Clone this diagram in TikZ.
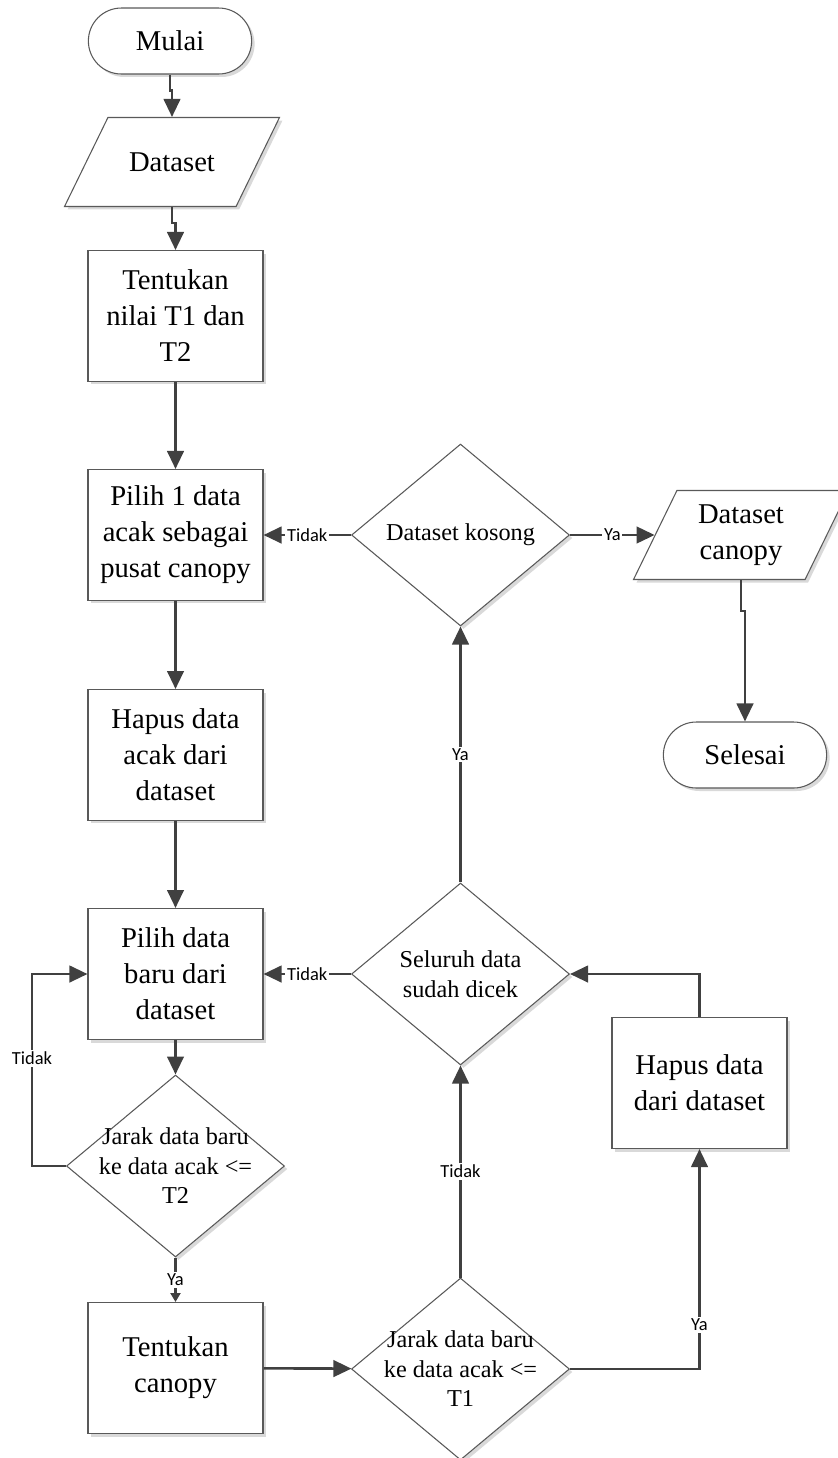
\documentclass[tikz,border=0pt]{standalone}
\usepackage{fontspec}
\setmainfont{Liberation Serif}
\newfontfamily\lblfont{Carlito}
\usetikzlibrary{shapes.geometric,shapes.misc,arrows.meta,shadows}

\tikzset{
  base/.style={draw=black!65, line width=0.6pt, fill=white,
    drop shadow={shadow xshift=0.06cm, shadow yshift=-0.06cm, fill=black!15, opacity=1}},
  proc/.style={base, rectangle, minimum width=3.5cm, minimum height=2.62cm, align=center,
    font=\fontsize{16.3}{20.5}\selectfont},
  term/.style={base, rounded rectangle, minimum width=3.5cm, minimum height=1.32cm,
    font=\fontsize{16.3}{20.5}\selectfont},
  io/.style={base, trapezium, trapezium left angle=64, trapezium right angle=116,
    trapezium stretches body, inner xsep=0pt, inner ysep=0.89cm, minimum width=4.3cm},
  iotext/.style={align=center, font=\fontsize{16.3}{20.5}\selectfont},
  decision/.style={base, diamond, minimum width=4.36cm, minimum height=3.64cm, inner sep=0pt},
  dtext/.style={align=center, font=\fontsize{13.8}{16.8}\selectfont},
  arr/.style={draw=black!75, line width=1.5pt, -{Triangle[length=0.36cm,width=0.33cm]}},
  arrsmall/.style={draw=black!75, line width=1.5pt, -{Triangle[length=0.18cm,width=0.2cm]}},
  lbl/.style={fill=white, inner sep=1pt, text=black, font=\lblfont\fontsize{10.5}{12}\selectfont},
}

\begin{document}
\begin{tikzpicture}[x=0.02cm, y=-0.02cm]
\useasboundingbox (0,0) rectangle (838,1458);

\node[term] (mulai) at (170,41) {Mulai};
\node[io] (dataset) at (172,162) {};
\node[iotext] (datasettxt) at (dataset) {Dataset};
\node[proc] (nilai) at (175.5,316) {Tentukan\\nilai T1 dan\\T2};
\node[proc] (pusat) at (175.5,535) {Pilih 1 data\\acak sebagai\\pusat canopy};
\node[proc] (hapusacak) at (175.5,755) {Hapus data\\acak dari\\dataset};
\node[proc] (baru) at (175.5,974) {Pilih data\\baru dari\\dataset};
\node[decision] (cekT2) at (175.5,1166) {};
\node[dtext] (cekT2txt) at (cekT2) {Jarak data baru\\ke data acak <=\\T2};
\node[proc] (canopy) at (175.5,1368) {Tentukan\\canopy};
\node[decision] (cekT1) at (460.5,1369) {};
\node[dtext] (cekT1txt) at (cekT1) {Jarak data baru\\ke data acak <=\\T1};
\node[proc] (hapus) at (699.5,1083) {Hapus data\\dari dataset};
\node[decision] (seluruh) at (460.5,974) {};
\node[dtext] (seluruhtxt) at (seluruh) {Seluruh data\\sudah dicek};
\node[decision] (kosong) at (460.5,535) {};
\node[dtext] (kosongtxt) at (kosong) {Dataset kosong};
\node[io] (hasil) at (741,535) {};
\node[iotext] (hasiltxt) at (hasil) {Dataset\\canopy};
\node[term] (selesai) at (745,755) {Selesai};

\draw[arr] (mulai.south) -- ++(0,16) -| (dataset.north);
\draw[arr] (dataset.south) -- ++(0,16) -| (nilai.north);
\draw[arr] (nilai) -- (pusat);
\draw[arr] (pusat) -- (hapusacak);
\draw[arr] (hapusacak) -- (baru);
\draw[arr] (baru) -- (cekT2);
\draw[arrsmall] (cekT2) -- node[lbl] {Ya} (canopy);
\draw[arr] (cekT2.west) -- ++(-34,0) |- node[lbl, pos=0.28] {Tidak} (baru.west);
\draw[arr] (canopy) -- (cekT1);
\draw[arr] (cekT1) -- node[lbl] {Tidak} (seluruh);
\draw[arr] (cekT1.east) -| node[lbl, pos=0.6] {Ya} (hapus.south);
\draw[arr] (hapus.north) |- (seluruh.east);
\draw[arr] (seluruh) -- node[lbl] {Tidak} (baru);
\draw[arr] (seluruh) -- node[lbl] {Ya} (kosong);
\draw[arr] (kosong) -- node[lbl] {Tidak} (pusat);
\draw[arr] (kosong) -- node[lbl] {Ya} (hasil);
\draw[arr] (hasil.south) -- ++(0,31) -| (selesai.north);
\end{tikzpicture}
\end{document}
